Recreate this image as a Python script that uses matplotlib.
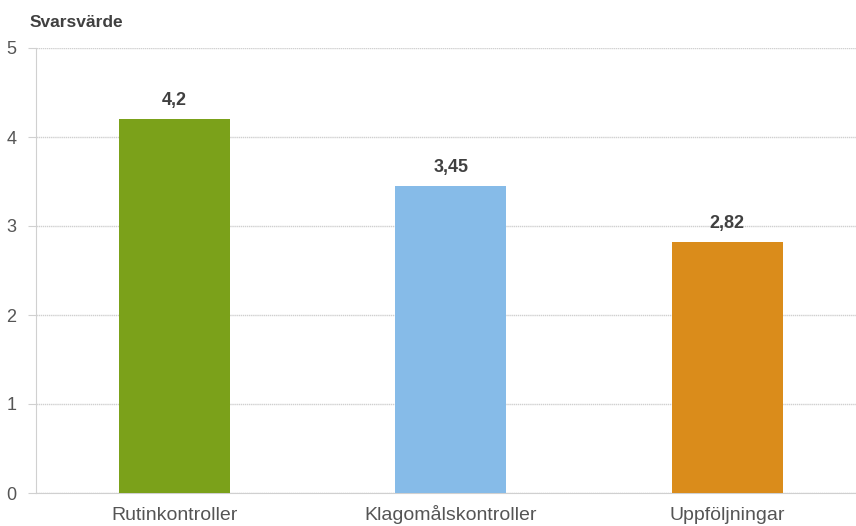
import matplotlib
matplotlib.use("Agg")
import matplotlib.pyplot as plt

categories = ["Rutinkontroller", "Klagomålskontroller", "Uppföljningar"]
values = [4.2, 3.45, 2.82]
value_labels = ["4,2", "3,45", "2,82"]
colors = ["#7BA11A", "#86BBE8", "#DA8C1B"]
yticks = [0, 1, 2, 3, 4, 5]

W, H = 856, 526
fig = plt.figure(figsize=(W / 100, H / 100), dpi=100)
left, right = 36, 856
bottom, top = 493, 48
ax = fig.add_axes([left / W, 1 - bottom / H, (right - left) / W, (bottom - top) / H])

cat_w = 276.5
x = list(range(len(categories)))
ax.bar(x, values, width=111 / cat_w, color=colors, zorder=3)
ax.set_xlim(-0.5, -0.5 + (right - left) / cat_w)
ax.set_ylim(0, 5)
ax.set_yticks(yticks)
ax.set_yticklabels([str(v) for v in yticks], fontsize=13, color="#555555",
                   family="Liberation Sans")
ax.set_xticks(x)
ax.set_xticklabels(categories, fontsize=14, color="#555555", family="Liberation Sans")
for lbl in ax.get_xticklabels():
    lbl.set_va("baseline")
ax.tick_params(axis="y", length=6, color="#D0D0D0", pad=8)
ax.tick_params(axis="x", length=0, pad=19.5)
ax.grid(axis="y", color="#D0D0D0", linewidth=1, linestyle=(0, (1, 0.5)), zorder=0)
for s in ["top", "right"]:
    ax.spines[s].set_visible(False)
ax.spines["left"].set_color("#D0D0D0")
ax.spines["bottom"].set_color("#D0D0D0")

for xi, v, lab in zip(x, values, value_labels):
    ax.annotate(lab, (xi, v), xytext=(0, 14), textcoords="offset pixels",
                ha="center", va="baseline", fontsize=13, fontweight="bold",
                color="#404040", family="Liberation Sans")

fig.text(30 / W, 1 - 27 / H, "Svarsvärde", fontsize=12.5, fontweight="bold",
         color="#404040", family="Liberation Sans", ha="left", va="baseline")

fig.savefig("out.png", dpi=100)
